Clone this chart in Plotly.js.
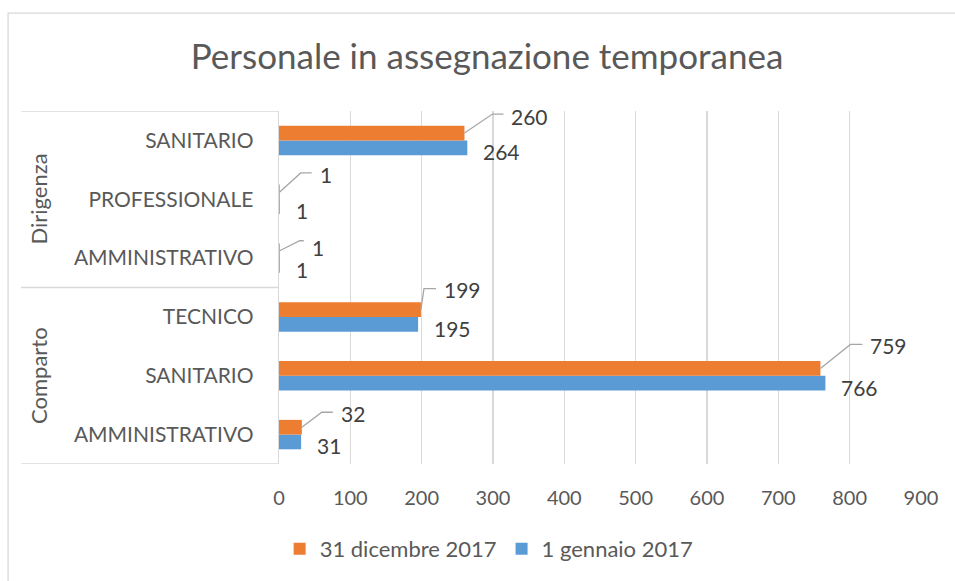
<!DOCTYPE html>
<html>
<head>
<meta charset="utf-8">
<script src="https://cdn.plot.ly/plotly-3.0.1.min.js"></script>
<style>
  html, body { margin: 0; padding: 0; background: #fff; }
  #chart { width: 955px; height: 581px; }
</style>
</head>
<body>
<div id="chart"></div>
<script>
// ---- data (bottom to top) ----
const groups = ["Comparto", "Comparto", "Comparto", "Dirigenza", "Dirigenza", "Dirigenza"];
const roles = ["AMMINISTRATIVO", "SANITARIO", "TECNICO", "AMMINISTRATIVO", "PROFESSIONALE", "SANITARIO"];
const gennaio2017 = [31, 766, 195, 1, 1, 264];
const dicembre2017 = [32, 759, 199, 1, 1, 260];
const seriesNames = ["1 gennaio 2017", "31 dicembre 2017"];
const groupNames = ["Comparto", "Dirigenza"];
const xTicks = [0, 100, 200, 300, 400, 500, 600, 700, 800, 900];

// ---- label leader styling (pixel offsets: dx, dy (screen, down +), horizontal run, text dy) ----
const leaderStyle = [
  [20, -15, 11, -14],
  [30, -24, 12, -23],
  [3, -21, 12, -20],
  [20, -10, 4, -3],
  [21, -19, 11, -17],
  [28, -19, 11, -17]
];

const keys = roles.map((r, i) => groups[i] + " · " + r);
const idx = roles.map((r, i) => i);

const txt = "#595959";
const grid = "#D9D9D9";
const FONT = "Lato, 'Open Sans', sans-serif";

const traces = [
  {
    type: "bar", orientation: "h", name: seriesNames[0],
    x: gennaio2017, y: keys,
    marker: { color: "#5B9BD5" },
    hoverinfo: "none"
  },
  {
    type: "bar", orientation: "h", name: seriesNames[1],
    x: dicembre2017, y: keys,
    marker: { color: "#ED7D31" },
    hoverinfo: "none"
  }
];

const annotations = [];
const shapes = [];

// orange labels with leader lines
dicembre2017.forEach((v, i) => {
  const s = leaderStyle[i];
  shapes.push({
    type: "path", xref: "x", yref: "y",
    xsizemode: "pixel", ysizemode: "pixel",
    xanchor: v, yanchor: i + 0.125,
    path: "M0,0 L" + s[0] + "," + (-s[1]) + " L" + (s[0] + s[2]) + "," + (-s[1]),
    line: { color: "#A6A6A6", width: 1.3 }
  });
  annotations.push({
    x: v, y: i + 0.125, xref: "x", yref: "y",
    text: String(v), showarrow: false,
    xanchor: "left", yanchor: "middle",
    xshift: s[0] + s[2] + 6, yshift: -s[3],
    font: { family: FONT, size: 21, color: "#404040" }
  });
});
// blue labels
gennaio2017.forEach((v, i) => {
  annotations.push({
    x: v, y: i - 0.125, xref: "x", yref: "y",
    text: String(v), showarrow: false,
    xanchor: "left", yanchor: "middle",
    xshift: 14, yshift: -4,
    font: { family: FONT, size: 21, color: "#404040" }
  });
});

// group labels
groupNames.forEach((g) => {
  const members = idx.filter(i => groups[i] === g);
  const mid = (members[0] + members[members.length - 1]) / 2;
  annotations.push({
    x: -0.375, y: mid, xref: "paper", yref: "y",
    text: g, showarrow: false, textangle: -90,
    xanchor: "center", yanchor: "middle",
    font: { family: FONT, size: 22, color: txt }
  });
});

// group box lines
const boundaries = [-0.5];
for (let i = 1; i < groups.length; i++) if (groups[i] !== groups[i - 1]) boundaries.push(i - 0.5);
boundaries.push(groups.length - 0.5);
boundaries.forEach(b => {
  shapes.push({
    type: "line", xref: "paper", yref: "y",
    x0: -0.402, x1: 0, y0: b, y1: b,
    line: { color: grid, width: 1.3 }
  });
});

// outer chart border
shapes.push({
  type: "rect", xref: "paper", yref: "paper",
  x0: -0.422, x1: 1.2, y0: -0.5, y1: 1.277,
  line: { color: grid, width: 1.3 }, fillcolor: "rgba(0,0,0,0)", layer: "below"
});

const layout = {
  width: 955, height: 581,
  margin: { l: 279, r: 34, t: 111, b: 116, pad: 0 },
  paper_bgcolor: "#fff", plot_bgcolor: "#fff",
  title: {
    text: "Personale in assegnazione temporanea",
    font: { family: FONT, size: 35, color: txt },
    x: 0.51, xref: "container", xanchor: "center",
    y: 0.902, yref: "container", yanchor: "middle"
  },
  barmode: "group",
  bargap: 0.5, bargroupgap: 0,
  xaxis: {
    range: [0, 900], tickvals: xTicks, ticktext: xTicks.map(String),
    showgrid: true, gridcolor: grid, gridwidth: 1.3,
    zeroline: false, showline: false, ticks: "",
    ticklabelstandoff: 20,
    tickfont: { family: FONT, size: 20, color: txt },
    fixedrange: true
  },
  yaxis: {
    type: "category", categoryorder: "array", categoryarray: keys,
    tickvals: keys, ticktext: roles,
    showgrid: false, zeroline: false,
    showline: true, linecolor: grid, linewidth: 1.3,
    ticks: "", ticklabelstandoff: 20,
    tickfont: { family: FONT, size: 21, color: txt },
    range: [-0.5, 5.5], fixedrange: true
  },
  showlegend: true,
  legend: {
    orientation: "h", traceorder: "reversed",
    x: 0.001, xanchor: "left", xref: "paper",
    y: -0.237, yanchor: "middle", yref: "paper",
    font: { family: FONT, size: 22, color: txt },
    itemwidth: 30, itemclick: false, itemdoubleclick: false,
    bgcolor: "rgba(0,0,0,0)"
  },
  annotations: annotations,
  shapes: shapes
};

Plotly.newPlot("chart", traces, layout, { staticPlot: true, displayModeBar: false });
</script>
</body>
</html>
